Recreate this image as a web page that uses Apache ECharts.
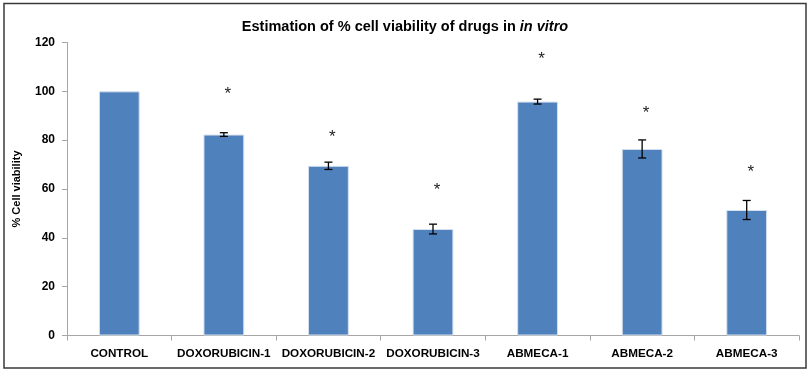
<!DOCTYPE html>
<html><head><meta charset="utf-8">
<script src="https://cdn.jsdelivr.net/npm/echarts@6/dist/echarts.min.js"></script>
<style>html,body{margin:0;padding:0;background:#fff}#c{width:812px;height:374px}</style>
</head><body><div id="c"></div>
<script>
const categories = ['CONTROL','DOXORUBICIN-1','DOXORUBICIN-2','DOXORUBICIN-3','ABMECA-1','ABMECA-2','ABMECA-3'];
const viability = [100, 82.3, 69.5, 43.6, 95.8, 76.4, 51.4];
const errors = [0, 0.75, 1.5, 2.0, 1.0, 3.7, 3.9];
const asteriskY = [null, 100.5, 83, 61.2, 114.7, 92.6, 68.4];
const yTicks = [0, 20, 40, 60, 80, 100, 120];

const chart = echarts.init(document.getElementById('c'));
const bold = {fontFamily:'Liberation Sans, Arial', fontWeight:'bold', color:'#000'};
chart.setOption({
  animation:false,
  graphic:[{type:'rect', shape:{x:4,y:3.5,width:802,height:364.5}, style:{fill:'none', stroke:'#3a3a3a', lineWidth:1.5}, z:0}],
  title:{
    text:'{n|Estimation of % cell viability of drugs in }{i|in vitro}',
    left:400, top:14, textAlign:'center',
    textStyle:{rich:{
      n:{fontFamily:'Liberation Sans, Arial', fontWeight:'bold', fontSize:14.5, color:'#000'},
      i:{fontFamily:'Liberation Sans, Arial', fontWeight:'bold', fontStyle:'italic', fontSize:14.5, color:'#000'}
    }}
  },
  grid:{left:67, right:13, top:42.5, bottom:38.5},
  xAxis:{
    type:'category', data:categories,
    axisLine:{lineStyle:{color:'#a6a6a6'}},
    axisTick:{show:true, length:5, lineStyle:{color:'#a6a6a6'}},
    axisLabel:Object.assign({fontSize:11.7, margin:12, interval:0}, bold)
  },
  yAxis:{
    type:'value', min:0, max:120, interval:20,
    name:'% Cell viability', nameLocation:'middle', nameGap:45, nameRotate:90,
    nameTextStyle:Object.assign({fontSize:11}, bold),
    axisLine:{show:true, lineStyle:{color:'#a6a6a6'}},
    axisTick:{show:true, length:5, lineStyle:{color:'#a6a6a6'}},
    splitLine:{show:false},
    axisLabel:Object.assign({fontSize:12, margin:12, formatter:v=>yTicks.includes(v)?String(v):''}, bold)
  },
  series:[
    {type:'bar', data:viability, barWidth:'39%',
     itemStyle:{color:'#4f81bd', borderColor:'#d6e0ee', borderWidth:1}},
    {type:'custom', z:5,
     data:viability.map((v,i)=>[i,v,errors[i]]),
     renderItem:(params, api)=>{
       const i=api.value(0), v=api.value(1), e=api.value(2);
       if(!e) return null;
       const top=api.coord([i,v+e]), bot=api.coord([i,v-e]);
       const x=top[0], w=4;
       const st={stroke:'#000', lineWidth:1.3};
       return {type:'group', children:[
         {type:'line', shape:{x1:x,y1:top[1],x2:x,y2:bot[1]}, style:st},
         {type:'line', shape:{x1:x-w,y1:top[1],x2:x+w,y2:top[1]}, style:st},
         {type:'line', shape:{x1:x-w,y1:bot[1],x2:x+w,y2:bot[1]}, style:st}
       ]};
     }},
    {type:'custom', z:5,
     data:asteriskY.map((v,i)=>[i,v]).filter(d=>d[1]!==null),
     renderItem:(params, api)=>{
       const p=api.coord([api.value(0), api.value(1)]);
       return {type:'text', x:p[0]+4, y:p[1]+4, style:{text:'*', fontSize:17, fontFamily:'Liberation Sans, Arial', fill:'#222', align:'center', verticalAlign:'middle'}};
     }}
  ]
});
</script></body></html>
